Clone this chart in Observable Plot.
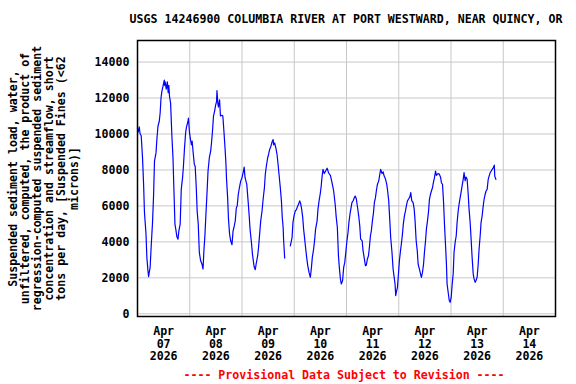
<!DOCTYPE html>
<html>
<head>
<meta charset="utf-8">
<script src="https://cdn.jsdelivr.net/npm/d3@7"></script>
<script src="https://cdn.jsdelivr.net/npm/@observablehq/plot@0.6"></script>
<style>
  html, body { margin: 0; padding: 0; background: #fff; }
  #wrap { width: 576px; height: 384px; overflow: hidden; font-family: "DejaVu Sans Mono", monospace; font-weight: bold; font-size: 11.6px; }
  #title { height: 19px; padding-top: 13px; line-height: 12px; padding-left: 116px; text-align: center; color: #000; white-space: nowrap; }
  #caption { padding-top: 5px; line-height: 12px; padding-left: 112px; text-align: center; color: #ff0000; white-space: nowrap; }
  svg { display: block; }
</style>
</head>
<body>
<div id="wrap">
  <div id="title"></div>
  <div id="chart"></div>
  <div id="caption"></div>
</div>
<script>
const titleText = "USGS 14246900 COLUMBIA RIVER AT PORT WESTWARD, NEAR QUINCY, OR";
const captionText = "---- Provisional Data Subject to Revision ----";
const yLabelText = "Suspended sediment load, water,\nunfiltered, computed, the product of\nregression-computed suspended sediment\nconcentration and streamflow, short\ntons per day, [Suspended Fines (<62\nmicrons)]";

// hours since 2026-04-07 00:00, and load (short tons per day); null = gap
const hours = [
  0, 0.3, 0.8, 1.2, 1.7, 2.3, 2.8, 3.2, 3.9, 4.3, 4.8, 5.1, 5.4, 5.8, 6.3, 6.9, 7.4, 7.8, 8.5, 8.9,
  9.4, 10.0, 10.4, 10.8, 11.2, 11.7, 12.3, 12.5, 12.7, 13.2, 13.7, 14.1, 14.4, 14.7, 15.2, 15.8, 16.3, 16.7, 17.2, 17.6,
  18.1, 18.6, 19.0, 19.6, 20.1, 20.7, 21.1, 21.6, 22.1, 22.5, 23.2, 23.4, 23.9, 24.4, 24.8, 25.1, 25.6, 26.1, 26.5, 27.0,
  27.4, 27.9, 28.4, 29.0, 29.6, 30.1, 30.5, 31.0, 31.4, 31.9, 32.4, 33.0, 33.6, 34.0, 34.5, 34.9, 35.4, 35.9, 36.3, 36.5,
  36.9, 37.2, 37.7, 38.1, 38.8, 39.2, 39.7, 40.2, 40.6, 40.9, 41.4, 41.8, 42.3, 42.8, 43.4, 43.9, 44.3, 44.9, 45.4, 45.8,
  46.3, 46.8, 47.4, 48.0, 48.6, 49.0, 49.4, 50.2, 50.8, 51.3, 51.7, 52.4, 52.8, 53.3, 53.6, 54.1, 54.5, 55.2, 55.6, 56.1,
  56.6, 57.2, 57.7, 58.3, 58.7, 59.2, 59.8, 60.2, 60.7, 61.3, 61.8, 62.3, 62.5, 63.0, 63.6, 64.1, 64.5, 65.0, 65.6, 66.1,
  66.5, 66.9, 67.1, 67.6, 68.8,
  70.2, 71.0, 71.4, 71.9, 72.5, 73.0, 73.6, 74.0, 74.5, 74.9, 75.4, 75.9, 76.3, 76.8, 77.2, 77.7, 78.2, 78.8, 79.4, 79.9,
  80.3, 80.9, 81.4, 81.8, 82.5, 82.9, 83.4, 83.9, 84.3, 84.8, 85.2, 85.8, 86.4, 87.1, 87.8, 88.6, 89.4, 90.1, 90.8, 91.3,
  91.8, 92.3, 92.7, 93.2, 93.6, 94.2, 94.7, 95.2, 95.6, 96.2, 96.7, 97.1, 97.6, 98.1, 98.5, 99.1, 99.6, 100.0, 100.5, 101.1,
  101.6, 102.1, 102.5, 103.2, 103.6, 104.1, 104.7, 105.1, 105.6, 106.1, 106.5, 107.0, 107.4, 107.9, 108.4, 108.8, 109.3, 109.7, 110.2, 110.8,
  111.3, 111.7, 112.3, 112.8, 113.3, 113.9, 114.5, 114.9, 115.4, 115.9, 116.3, 116.9, 117.4, 117.9, 118.3, 118.6, 118.9, 119.4, 119.8, 120.3,
  120.8, 121.2, 121.7, 122.1, 122.6, 123.1, 123.5, 124.0, 124.6, 125.1, 125.5, 126.0, 126.6, 127.1, 127.5, 128.0, 128.5, 128.9, 129.5, 130.0,
  130.4, 130.9, 131.4, 131.8, 132.3, 132.7, 133.2, 133.7, 134.1, 134.6, 135.0, 135.5, 135.9, 136.4, 136.9, 137.3, 138.0, 138.6, 139.2, 139.6,
  140.1, 140.6, 141.0, 141.5, 141.9, 142.2, 142.7, 143.2, 143.6, 144.1, 144.5, 145.0, 145.4, 145.9, 146.4, 146.8, 147.3, 147.7, 148.2, 148.6,
  149.1, 149.6, 150.0, 150.5, 150.9, 151.4, 151.9, 152.3, 152.8, 153.2, 153.7, 154.2, 154.6, 155.1, 155.5, 156.0, 156.5, 156.9, 157.4, 157.8,
  158.3, 158.8, 159.2, 159.7, 160.1, 160.6, 161.1, 161.5, 162.0, 162.5, 162.9, 163.4, 163.9, 164.1, 164.6
];
const load = [
  10300, 10100, 10400, 10000, 9900, 8700, 7200, 5630, 4450, 3140, 2400, 2070, 2300, 2580, 3780, 5070, 6650, 8490, 8950, 9690,
  10430, 10710, 11170, 12000, 12370, 12650, 13000, 12700, 12900, 12500, 12900, 12300, 12700, 12100, 11720, 9880, 8680, 7010, 4990, 4700,
  4280, 4150, 4610, 4990, 6920, 7570, 8220, 9230, 10060, 10380, 10710, 10890, 10060, 9650, 9400, 9600, 8930, 8310, 8200, 7010,
  5720, 4990, 3410, 2950, 2770, 2490, 3510, 4430, 5450, 6650, 7940, 8680, 9050, 9510, 10250, 10990, 11260, 11600, 11800, 12410,
  11700, 11500, 11900, 11000, 11040, 11000, 10150, 9230, 8400, 7480, 6460, 5260, 4430, 4060, 3840, 4610, 4800, 5170, 5900, 6000,
  6650, 7010, 7380, 7570, 7900, 8160, 7570, 7200, 6280, 5450, 4710, 3880, 3320, 2860, 2600, 2450, 2770, 3230, 3690, 4430,
  5170, 5720, 6370, 7010, 7760, 8220, 8680, 8860, 9140, 9320, 9560, 9690, 9400, 9500, 9200, 8860, 8400, 7760, 7010, 6280,
  5350, 4800, 4150, 3100, null,
  3780, 4240, 5070, 5450, 5720, 5800, 6000, 6100, 6280, 6150, 5820, 5350, 4710, 4150, 3690, 3140, 2680, 2300, 2030, 2580,
  3140, 3600, 4150, 4710, 5170, 5820, 6280, 6650, 7010, 7660, 8030, 7800, 7940, 8100, 7830, 7700, 7270, 6830, 6090, 5350,
  4800, 3230, 2580, 1940, 1660, 1840, 2580, 2860, 3320, 4060, 4520, 5070, 5540, 5900, 6180, 6300, 6460, 6550, 6400, 5900,
  5450, 4890, 4150, 4060, 3510, 3140, 2680, 2700, 3050, 3230, 3690, 4340, 4610, 5170, 5630, 6180, 6460, 6830, 7200, 7380,
  7760, 8030, 7800, 7900, 7660, 7500, 7200, 6830, 6280, 5170, 4240, 3410, 2490, 2030, 1660, 1010, 1200, 1470, 2120, 2950,
  3510, 3880, 4430, 4990, 5450, 5720, 6000, 6280, 6400, 6500, 6740, 6280, 6180, 5820, 5170, 4060, 3510, 2770, 2490, 2220,
  2030, 2300, 2770, 3410, 4060, 4710, 5170, 5720, 6370, 6650, 6830, 7010, 7290, 7570, 7940, 7700, 7800, 7770, 7600, 7290,
  7200, 6180, 4990, 3780, 2770, 1660, 1200, 740, 640, 920, 1570, 2220, 3410, 3970, 4340, 5070, 5720, 6090, 6460, 6740,
  7110, 7480, 7850, 7400, 7600, 7500, 6650, 5820, 5070, 4240, 3140, 2220, 1940, 1750, 1850, 2030, 2770, 3600, 4340, 5070,
  5450, 6000, 6370, 6650, 6830, 6920, 7480, 7660, 7850, 7940, 8030, 8120, 8270, 7660, 7480
];

const yTicks = [0, 2000, 4000, 6000, 8000, 10000, 12000, 14000];
const gridDays = ["2026-04-08", "2026-04-09", "2026-04-10", "2026-04-11", "2026-04-12", "2026-04-13", "2026-04-14"];
const labelMonth = "Apr";
const labelDays = ["07", "08", "09", "10", "11", "12", "13", "14"];
const labelYear = "2026";
const xStart = "2026-04-07";
const xEnd = "2026-04-15";

const base = Date.parse(xStart + "T00:00:00Z");
const data = hours.map((h, i) => ({date: new Date(base + h * 3600e3), value: load[i]}));
const gridDates = gridDays.map(d => new Date(d + "T00:00:00Z"));
const labelData = labelDays.map(d => ({date: new Date(`2026-04-${d}T12:00:00Z`), text: `${labelMonth}\n${d}\n${labelYear}`}));

document.getElementById("title").textContent = titleText;
document.getElementById("caption").textContent = captionText;

const chart = Plot.plot({
  width: 576,
  height: 332,
  marginLeft: 137,
  marginRight: 21,
  marginTop: 8,
  marginBottom: 48,
  style: {fontFamily: "DejaVu Sans Mono, monospace", fontSize: "11.6px", fontWeight: "bold", color: "#000", background: "#fff"},
  x: {type: "utc", axis: null, domain: [new Date(xStart + "T00:00:00Z"), new Date(xEnd + "T00:00:00Z")]},
  y: {domain: [-150, 15200]},
  marks: [
    Plot.gridY(yTicks, {stroke: "#c8c8c8", strokeOpacity: 1, strokeWidth: 1}),
    Plot.gridX(gridDates, {stroke: "#c8c8c8", strokeOpacity: 1, strokeWidth: 1}),
    Plot.axisY(yTicks, {tickSize: 0, tickPadding: 8, label: null, fill: "#000", tickFormat: d => String(d)}),
    Plot.text(labelData, {x: "date", text: "text", frameAnchor: "bottom", lineAnchor: "top", dy: 10, lineHeight: 1.08, fill: "#000"}),
    Plot.text([yLabelText], {text: d => d, frameAnchor: "left", rotate: -90, dx: -94, lineAnchor: "middle", lineHeight: 1.04, textAnchor: "middle", fill: "#000"}),
    Plot.line(data, {x: "date", y: "value", stroke: "#0000ff", strokeWidth: 1.2}),
    Plot.frame({stroke: "#000", strokeWidth: 1.5})
  ]
});
document.getElementById("chart").appendChild(chart);
</script>
</body>
</html>
